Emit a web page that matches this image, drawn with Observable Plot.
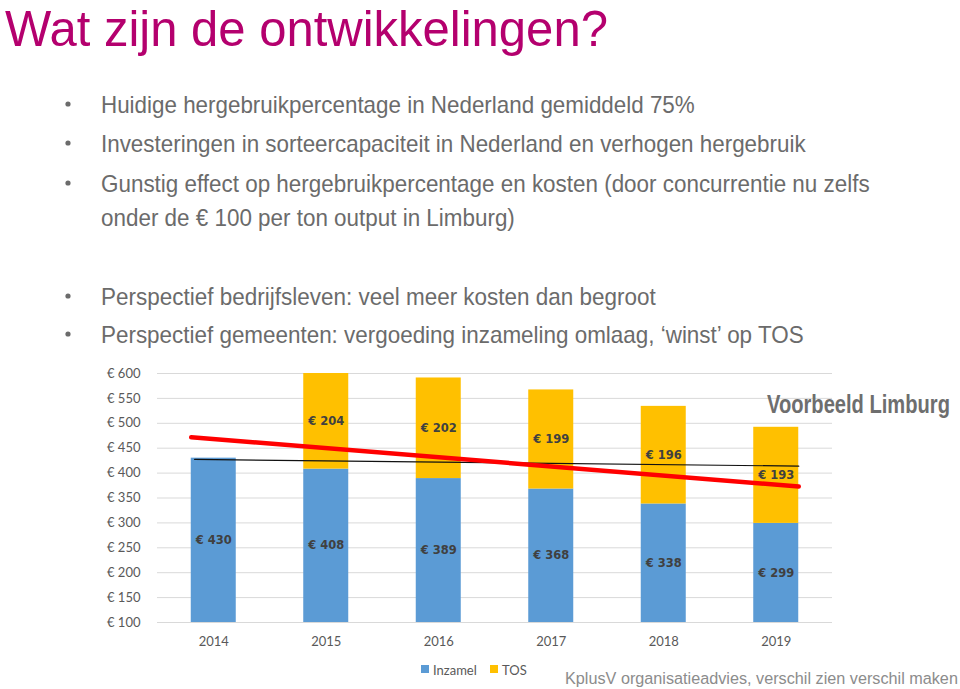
<!DOCTYPE html>
<html>
<head>
<meta charset="utf-8">
<script src="https://cdn.jsdelivr.net/npm/d3@7"></script>
<script src="https://cdn.jsdelivr.net/npm/@observablehq/plot@0.6"></script>
<style>
  html, body { margin: 0; padding: 0; background: #fff; }
  #page { position: relative; width: 960px; height: 689px; overflow: hidden; }
  #chart { position: absolute; left: 0; top: 355px; }
  #overlay { position: absolute; left: 0; top: 0; pointer-events: none; }
</style>
</head>
<body>
<div id="page">
  <div id="chart"></div>
  <svg id="overlay" width="960" height="689"></svg>
</div>
<script>
// ---- data ----
const years = [2014, 2015, 2016, 2017, 2018, 2019];
const inzamel = [430, 408, 389, 368, 338, 299];
const tos = [null, 204, 202, 199, 196, 193];
const yTicks = [100, 150, 200, 250, 300, 350, 400, 450, 500, 550, 600];
const seriesNames = ["Inzamel", "TOS"];
const seriesColors = ["#5B9BD5", "#FFC000"];
const redTrendYears = [2013.8, 2019.2];
const redTrendValues = [472, 373];
const blackLineYears = [2013.83, 2019.2];
const blackLineValues = [427.5, 414];

const title = "Wat zijn de ontwikkelingen?";
const bullets = [
  "Huidige hergebruikpercentage in Nederland gemiddeld 75%",
  "Investeringen in sorteercapaciteit in Nederland en verhogen hergebruik",
  "Gunstig effect op hergebruikpercentage en kosten (door concurrentie nu zelfs",
  "onder de € 100 per ton output in Limburg)",
  "Perspectief bedrijfsleven: veel meer kosten dan begroot",
  "Perspectief gemeenten: vergoeding inzameling omlaag, ‘winst’ op TOS"
];
const hasBullet = [true, true, true, false, true, true];
const note = "Voorbeeld Limburg";
const footer = "KplusV organisatieadvies, verschil zien verschil maken";

// ---- derived tables ----
const yMin = 100, yMax = 600;
const segs = [];
years.forEach((yr, i) => {
  segs.push({year: yr, series: seriesNames[0], lo: 0, hi: inzamel[i], value: inzamel[i]});
  if (tos[i] != null) segs.push({year: yr, series: seriesNames[1], lo: inzamel[i], hi: inzamel[i] + tos[i], value: tos[i]});
});
segs.forEach(d => { d.mid = (Math.max(yMin, d.lo) + Math.min(yMax, d.hi)) / 2; });
const red = redTrendYears.map((x, i) => ({x, y: redTrendValues[i]}));
const black = blackLineYears.map((x, i) => ({x, y: blackLineValues[i]}));

const chart = Plot.plot({
  width: 960,
  height: 302,
  marginTop: 18,
  marginBottom: 35,
  marginLeft: 157,
  marginRight: 128,
  style: {background: "transparent", fontFamily: "Lato, 'Open Sans', sans-serif", fontSize: "13px", color: "#595959"},
  x: {type: "linear", domain: [2013.5, 2019.5]},
  y: {domain: [yMin, yMax]},
  color: {domain: seriesNames, range: seriesColors},
  marks: [
    Plot.gridY(yTicks, {stroke: "#D9D9D9", strokeOpacity: 1, strokeWidth: 1}),
    Plot.rectY(segs, {x1: d => d.year - 0.2, x2: d => d.year + 0.2, y1: "lo", y2: "hi", fill: "series", clip: true}),
    Plot.line(black, {x: "x", y: "y", stroke: "#111", strokeWidth: 1.2}),
    Plot.line(red, {x: "x", y: "y", stroke: "#F00", strokeWidth: 4.5}),
    Plot.text(segs, {x: "year", y: "mid", text: d => "€ " + d.value, fill: "#404040",
      fontFamily: "'DejaVu Sans', Verdana, sans-serif", fontWeight: "bold", fontSize: 11.5}),
    Plot.axisY({ticks: yTicks, tickFormat: d => "€ " + d, tickSize: 0, tickPadding: 17, label: null, fontSize: 13}),
    Plot.axisX({ticks: years, tickFormat: d => String(d), tickSize: 0, tickPadding: 14, label: null, fontSize: 13})
  ]
});
document.getElementById("chart").appendChild(chart);

// ---- text overlay ----
const ov = d3.select("#overlay");
function addText(str, x, y, w, size, color, weight, family) {
  const t = ov.append("text").attr("x", 0).attr("y", 0)
    .attr("font-size", size).attr("fill", color)
    .attr("font-weight", weight || "normal")
    .attr("font-family", family || "'Liberation Sans', Arial, sans-serif")
    .text(str);
  const natural = t.node().getComputedTextLength() || w;
  t.attr("transform", `translate(${x},${y}) scale(${w / natural},1)`);
}
addText(title, 5, 46, 603, 50, "#B4006E");
const bulletBase = [113, 152, 192, 226, 305, 343];
const bulletEnd = [695, 806, 870, 515, 656, 804];
bullets.forEach((b, i) => {
  addText(b, 101, bulletBase[i], bulletEnd[i] - 101, 24, "#6B6B6B");
  if (hasBullet[i]) {
    ov.append("circle").attr("cx", 68).attr("cy", bulletBase[i] - 9).attr("r", 2.6).attr("fill", "#6B6B6B");
  }
});
addText(note, 767, 413, 183, 25, "#6E6E6E", "bold");
addText(footer, 565, 684, 393, 17, "#8C8C8C");

// legend
const lgX = [421, 490];
seriesNames.forEach((s, i) => {
  ov.append("rect").attr("x", lgX[i]).attr("y", 665).attr("width", 8).attr("height", 8).attr("fill", seriesColors[i]);
  ov.append("text").attr("x", lgX[i] + 12).attr("y", 675).attr("font-size", 13)
    .attr("fill", "#595959").attr("font-family", "Lato, 'Open Sans', sans-serif").text(s);
});
</script>
</body>
</html>
